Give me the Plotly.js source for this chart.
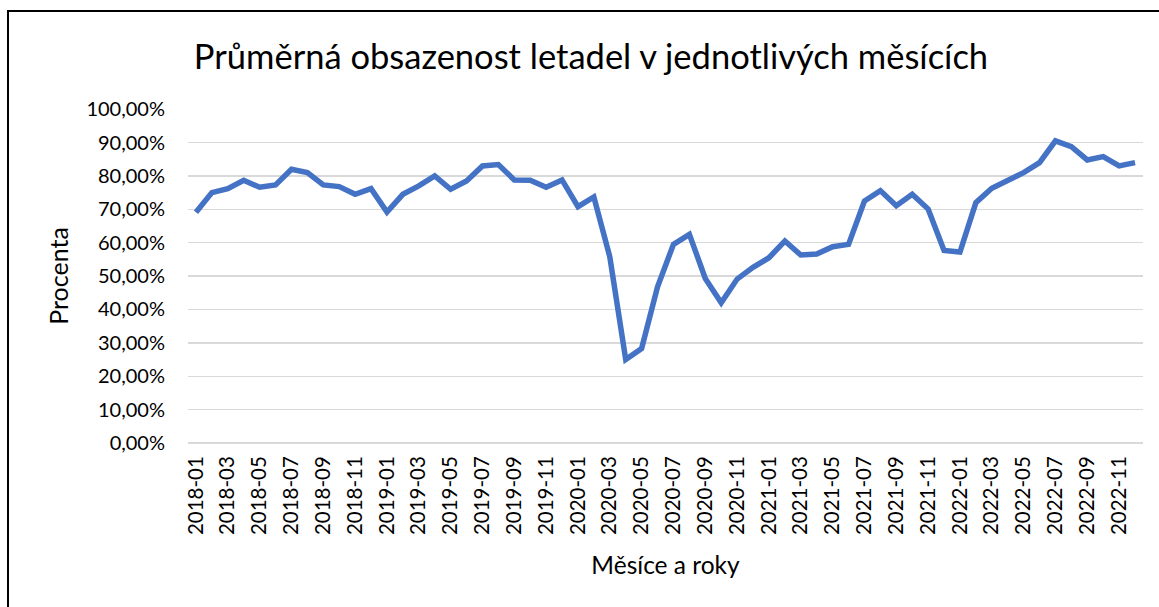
<!DOCTYPE html>
<html>
<head>
<meta charset="utf-8">
<script src="https://cdn.plot.ly/plotly-3.0.1.min.js"></script>
<style>
html,body{margin:0;padding:0;background:#fff;overflow:hidden;}
#chart{position:absolute;left:0;top:0;width:1159px;height:607px;}
#frame{position:absolute;left:7px;top:10px;width:3000px;height:3000px;border-left:2px solid #000;border-top:2px solid #000;pointer-events:none;}
</style>
</head>
<body>
<div id="chart"></div>
<div id="frame"></div>
<script>
const months = [
 "2018-01","2018-02","2018-03","2018-04","2018-05","2018-06","2018-07","2018-08","2018-09","2018-10","2018-11","2018-12",
 "2019-01","2019-02","2019-03","2019-04","2019-05","2019-06","2019-07","2019-08","2019-09","2019-10","2019-11","2019-12",
 "2020-01","2020-02","2020-03","2020-04","2020-05","2020-06","2020-07","2020-08","2020-09","2020-10","2020-11","2020-12",
 "2021-01","2021-02","2021-03","2021-04","2021-05","2021-06","2021-07","2021-08","2021-09","2021-10","2021-11","2021-12",
 "2022-01","2022-02","2022-03","2022-04","2022-05","2022-06","2022-07","2022-08","2022-09","2022-10","2022-11","2022-12"
];
const occupancyPct = [
 69.1,75.0,76.2,78.7,76.6,77.3,82.0,81.0,77.3,76.8,74.5,76.2,
 69.2,74.5,77.0,80.0,76.0,78.5,83.0,83.4,78.8,78.7,76.6,78.8,
 70.8,73.7,55.8,25.0,28.3,46.8,59.5,62.5,49.3,42.0,49.1,52.6,
 55.5,60.5,56.3,56.6,58.8,59.5,72.5,75.6,71.1,74.5,70.1,57.7,
 57.2,72.0,76.3,78.6,81.0,84.0,90.5,88.8,84.8,85.8,83.0,84.0
];
const tickMonths = months.filter((m, i) => i % 2 === 0);
const yTicks = [0,0.1,0.2,0.3,0.4,0.5,0.6,0.7,0.8,0.9,1.0];

const FONT = "Lato, 'Open Sans', sans-serif";

const trace = {
  type: "scatter",
  mode: "lines",
  x: months,
  y: occupancyPct.map(v => v / 100),
  line: {color: "#4472C4", width: 5.5, shape: "linear"},
  hoverinfo: "x+y"
};

const layout = {
  width: 1159,
  height: 607,
  autosize: false,
  paper_bgcolor: "#ffffff",
  plot_bgcolor: "#ffffff",
  separators: ",.",
  showlegend: false,
  margin: {l: 188, r: 16, t: 109, b: 164, pad: 0},
  font: {family: FONT, color: "#000000", size: 20},
  title: {
    text: "Průměrná obsazenost letadel v jednotlivých měsících",
    font: {family: FONT, size: 34.5, color: "#000000"},
    x: 591 / 1159, xanchor: "center", xref: "container",
    y: 1 - 57 / 607, yanchor: "middle", yref: "container"
  },
  xaxis: {
    type: "category",
    categoryorder: "array",
    categoryarray: months,
    range: [-0.5, months.length - 0.5],
    tickmode: "array",
    tickvals: tickMonths,
    ticktext: tickMonths,
    tickangle: -90,
    tickfont: {family: FONT, size: 20.5, color: "#000000"},
    ticklabelstandoff: 8,
    showgrid: false,
    zeroline: false,
    showline: false,
    ticks: "",
    automargin: false,
    title: {text: "Měsíce a roky", font: {family: FONT, size: 24.5, color: "#000000"}, standoff: 22}
  },
  yaxis: {
    range: [0, 1.0005],
    tickmode: "array",
    tickvals: yTicks,
    tickformat: ".2%",
    tickfont: {family: FONT, size: 20, color: "#000000"},
    showgrid: true,
    gridcolor: "#d9d9d9",
    gridwidth: 1.3,
    zeroline: true,
    zerolinecolor: "#d9d9d9",
    zerolinewidth: 1.3,
    showline: false,
    ticks: "",
    ticklabelstandoff: 22,
    automargin: false,
    title: {text: "Procenta", font: {family: FONT, size: 25, color: "#000000"}, standoff: 10}
  }
};

Plotly.newPlot("chart", [trace], layout, {displayModeBar: false, staticPlot: true});
</script>
</body>
</html>
